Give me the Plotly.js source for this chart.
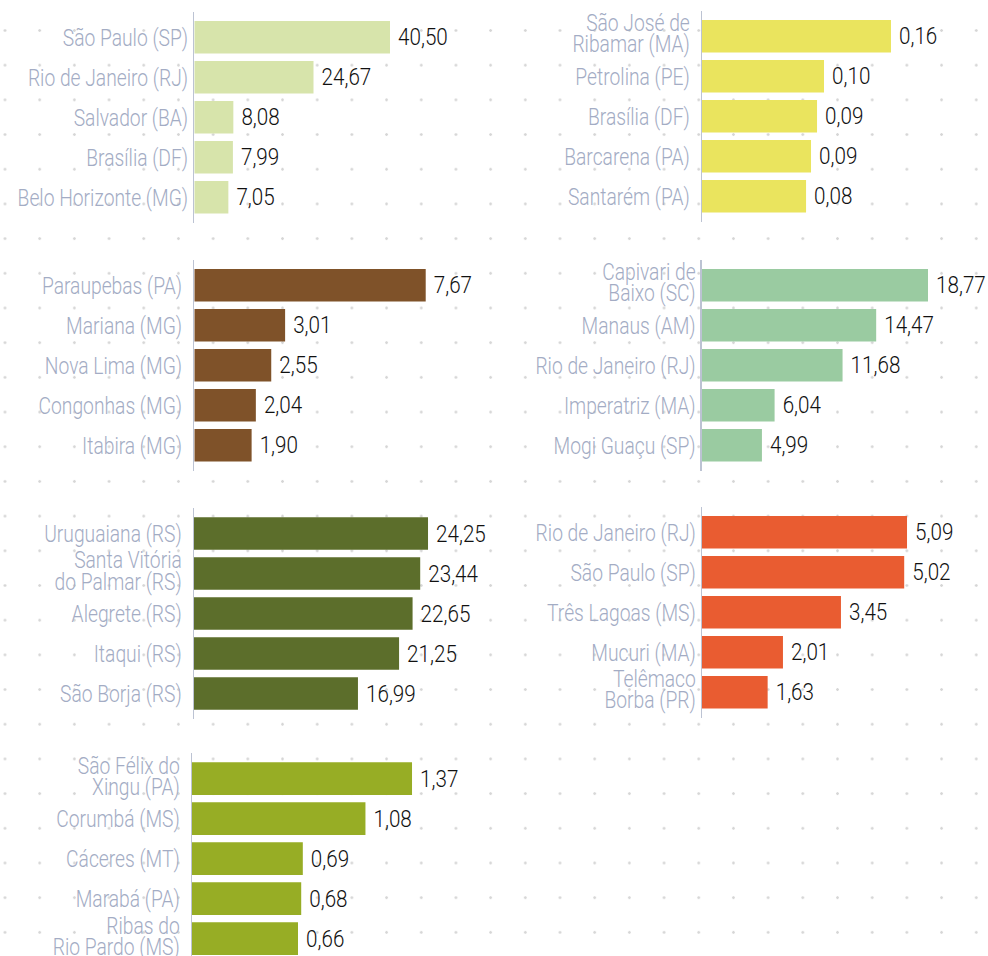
<!DOCTYPE html>
<html><head><meta charset="utf-8">
<script src="https://cdn.plot.ly/plotly-3.0.1.min.js"></script>
<style>
html,body{margin:0;padding:0;background:#fff;}
#chart{width:988px;height:956px;
 background-image: radial-gradient(circle, #d6d6d6 0, #d6d6d6 1px, rgba(255,255,255,0) 1.6px);
 background-size: 34.7px 34.7px;
 background-position: -12.35px 13.15px;}
</style></head><body><div id="chart"></div>
<script>
// ---- data ----
const citiesA = ['São Paulo (SP)','Rio de Janeiro (RJ)','Salvador (BA)','Brasília (DF)','Belo Horizonte (MG)'];
const valuesA = [40.50, 24.67, 8.08, 7.99, 7.05];
const labelsA = ['40,50','24,67','8,08','7,99','7,05'];

const citiesB = ['São José de<br>Ribamar (MA)','Petrolina (PE)','Brasília (DF)','Barcarena (PA)','Santarém (PA)'];
const valuesB = [0.160, 0.1033, 0.0974, 0.0923, 0.0881];
const labelsB = ['0,16','0,10','0,09','0,09','0,08'];

const citiesC = ['Paraupebas (PA)','Mariana (MG)','Nova Lima (MG)','Congonhas (MG)','Itabira (MG)'];
const valuesC = [7.67, 3.01, 2.55, 2.04, 1.90];
const labelsC = ['7,67','3,01','2,55','2,04','1,90'];

const citiesD = ['Capivari de<br>Baixo (SC)','Manaus (AM)','Rio de Janeiro (RJ)','Imperatriz (MA)','Mogi Guaçu (SP)'];
const valuesD = [18.77, 14.47, 11.68, 6.04, 4.99];
const labelsD = ['18,77','14,47','11,68','6,04','4,99'];

const citiesE = ['Uruguaiana (RS)','Santa Vitória<br>do Palmar (RS)','Alegrete (RS)','Itaqui (RS)','São Borja (RS)'];
const valuesE = [24.25, 23.44, 22.65, 21.25, 16.99];
const labelsE = ['24,25','23,44','22,65','21,25','16,99'];

const citiesF = ['Rio de Janeiro (RJ)','São Paulo (SP)','Três Lagoas (MS)','Mucuri (MA)','Telêmaco<br>Borba (PR)'];
const valuesF = [5.09, 5.02, 3.45, 2.01, 1.63];
const labelsF = ['5,09','5,02','3,45','2,01','1,63'];

const citiesG = ['São Félix do<br>Xingu (PA)','Corumbá (MS)','Cáceres (MT)','Marabá (PA)','Ribas do<br>Rio Pardo (MS)'];
const valuesG = [1.37, 1.08, 0.69, 0.68, 0.66];
const labelsG = ['1,37','1,08','0,69','0,68','0,66'];

// ---- styling / layout ----
const W = 988, H = 956;
const FONT = 'Roboto, "Liberation Sans", sans-serif';
const panels = [
  {c: citiesA, v: valuesA, t: labelsA, color: '#d7e4ab', left: 194.3, right: 470, center: 37.3, xmax: 57.06, standoff: 0},
  {c: citiesB, v: valuesB, t: labelsB, color: '#eae45e', left: 702.0, right: 985, center: 36.3, xmax: 0.2396, standoff: 6},
  {c: citiesC, v: valuesC, t: labelsC, color: '#7f5229', left: 194.3, right: 470, center: 285.3, xmax: 9.138, standoff: 6},
  {c: citiesD, v: valuesD, t: labelsD, color: '#9acba1', left: 701.8, right: 985, center: 285.3, xmax: 23.50, standoff: 5.5},
  {c: citiesE, v: valuesE, t: labelsE, color: '#5c6e2b', left: 194.0, right: 470, center: 533.5, xmax: 28.60, standoff: 6},
  {c: citiesF, v: valuesF, t: labelsF, color: '#e95c31', left: 702.0, right: 985, center: 532.3, xmax: 7.026, standoff: 5.5},
  {c: citiesG, v: valuesG, t: labelsG, color: '#97ad25', left: 192.0, right: 470, center: 778.6, xmax: 1.731, standoff: 6}
];

const data = [];
const layout = {
  width: W, height: H,
  margin: {l: 0, r: 0, t: 0, b: 0, pad: 0},
  paper_bgcolor: 'rgba(0,0,0,0)', plot_bgcolor: 'rgba(0,0,0,0)',
  showlegend: false, bargap: 0.185,
  font: {family: FONT}
};
panels.forEach((p, i) => {
  const n = i === 0 ? '' : String(i + 1);
  const top = p.center - 25.6;
  const bottom = Math.min(H, p.center + 185.25);
  data.push({
    type: 'bar', orientation: 'h',
    x: p.v, y: p.c, text: p.t,
    texttemplate: '\u00a0%{text}', textposition: 'outside', cliponaxis: false,
    constraintext: 'none',
    textfont: {family: FONT, size: 24, color: '#111111', weight: 300},
    marker: {color: p.color, line: {width: 0}},
    hoverinfo: 'none',
    xaxis: 'x' + n, yaxis: 'y' + n
  });
  layout['xaxis' + n] = {
    domain: [p.left / W, p.right / W], range: [0, p.xmax], visible: false,
    anchor: 'y' + n, fixedrange: true
  };
  layout['yaxis' + n] = {
    domain: [1 - bottom / H, 1 - top / H], anchor: 'x' + n,
    type: 'category', categoryorder: 'array', categoryarray: p.c,
    range: [4 + (bottom - p.center - 160) / 40, -0.64],
    showline: true, linecolor: '#bcc3d3', linewidth: 1.5,
    ticks: '', showgrid: false, zeroline: false,
    tickfont: {family: FONT, size: 23.5, color: '#a3acc4', weight: 300},
    ticklabelstandoff: p.standoff, automargin: false, fixedrange: true
  };
});

// condensed look: squeeze text horizontally around its anchor edge
function squeeze(el, pivot, dy, k) {
  const cur = el.getAttribute('transform') || '';
  el.setAttribute('transform', cur + ' translate(' + pivot + ',' + (dy || 0) + ') scale(' + k + ',1) translate(' + (-pivot) + ',0)');
}

Plotly.newPlot('chart', data, layout, {displayModeBar: false, staticPlot: true}).then(() => {
  document.querySelectorAll('.yaxislayer-above text').forEach(t => {
    const lines = t.querySelectorAll('tspan.line');
    lines.forEach(s => {
      const d = parseFloat(s.getAttribute('dy'));
      if (d > 0) s.setAttribute('dy', '0.9em');
    });
    const bb = t.getBBox();
    squeeze(t, bb.x + bb.width, lines.length > 1 ? 2 : 0, 0.82);
  });
  document.querySelectorAll('text.bartext').forEach(t => {
    const bb = t.getBBox();
    squeeze(t, bb.x, 0, 0.86);
  });
});
</script></body></html>
